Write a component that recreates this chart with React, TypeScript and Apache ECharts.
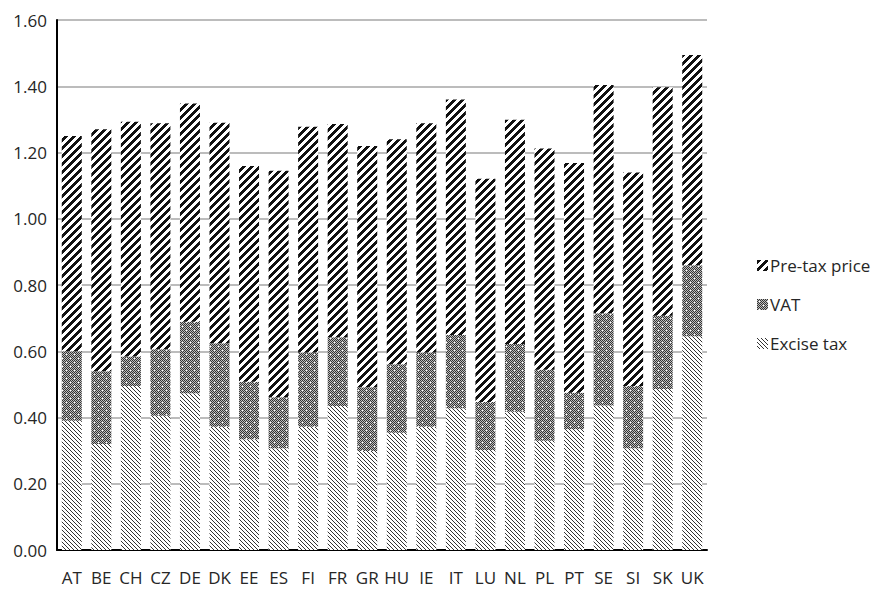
import React, { useEffect, useRef } from "react";
import * as echarts from "echarts";

const categories = ["AT", "BE", "CH", "CZ", "DE", "DK", "EE", "ES", "FI", "FR", "GR", "HU", "IE", "IT", "LU", "NL", "PL", "PT", "SE", "SI", "SK", "UK"];
const exciseTax = [0.39, 0.32, 0.495, 0.405, 0.473, 0.372, 0.334, 0.307, 0.372, 0.435, 0.299, 0.354, 0.372, 0.428, 0.302, 0.417, 0.33, 0.365, 0.436, 0.307, 0.486, 0.645];
const vat = [0.21, 0.22, 0.089, 0.201, 0.216, 0.252, 0.174, 0.154, 0.224, 0.207, 0.192, 0.207, 0.224, 0.221, 0.145, 0.205, 0.214, 0.11, 0.279, 0.188, 0.221, 0.215];
const preTax = [0.65, 0.73, 0.709, 0.682, 0.659, 0.666, 0.651, 0.684, 0.682, 0.644, 0.729, 0.679, 0.692, 0.711, 0.674, 0.677, 0.668, 0.693, 0.689, 0.645, 0.69, 0.634];
const yTicks = { min: 0, max: 1.6, interval: 0.2 };

function makePattern(size: number, pix: (x: number, y: number) => string) {
  const c = document.createElement("canvas");
  c.width = size;
  c.height = size;
  const ctx = c.getContext("2d")!;
  for (let y = 0; y < size; y++) {
    for (let x = 0; x < size; x++) {
      ctx.fillStyle = pix(x, y);
      ctx.fillRect(x, y, 1, 1);
    }
  }
  return { image: c, repeat: "repeat", imageWidth: size, imageHeight: size } as any;
}

export default function App() {
  const ref = useRef<HTMLDivElement>(null);
  useEffect(() => {
    if (!ref.current) return;
    const chart = echarts.init(ref.current, null, { renderer: "svg" });
    const prePat = makePattern(8, (x, y) => ((x + y) % 8 < 4 ? "#111111" : "#ffffff"));
    const excPat = makePattern(4, (x, y) => ((x - y + 8) % 4 === 0 ? "#333333" : "#ffffff"));
    const vatPat = makePattern(8, (x, y) => {
      if ((x === 2 && y === 2) || (x === 6 && y === 6)) return "#ffffff";
      return (x + y) % 2 === 0 ? "#333333" : "#bdbdbd";
    });
    const font = "'Open Sans', sans-serif";
    chart.setOption({
      animation: false,
      backgroundColor: "#ffffff",
      grid: { left: 57, right: 170, top: 20, bottom: 39 },
      legend: {
        orient: "vertical",
        left: 752,
        top: 252,
        itemGap: 22,
        itemWidth: 11,
        itemHeight: 11,
        icon: "rect",
        data: ["Pre-tax price", "VAT", "Excise tax"],
        textStyle: { fontFamily: font, fontSize: 17, color: "#262626", padding: [0, 0, 0, -3] },
      },
      xAxis: {
        type: "category",
        data: categories,
        axisLine: { lineStyle: { color: "#000000", width: 2 } },
        axisTick: { show: false },
        axisLabel: { interval: 0, fontFamily: font, fontSize: 17, color: "#262626", margin: 19 },
      },
      yAxis: {
        type: "value",
        min: yTicks.min,
        max: yTicks.max,
        interval: yTicks.interval,
        axisLine: { show: true, lineStyle: { color: "#000000", width: 2 } },
        axisTick: { show: false },
        splitLine: { lineStyle: { color: "#a6a6a6", width: 1.5 } },
        axisLabel: {
          fontFamily: font,
          fontSize: 17,
          color: "#262626",
          margin: 10,
          formatter: (v: number) => v.toFixed(2),
        },
      },
      series: [
        { name: "Excise tax", type: "bar", stack: "t", barWidth: 20, data: exciseTax, itemStyle: { color: excPat } },
        { name: "VAT", type: "bar", stack: "t", barWidth: 20, data: vat, itemStyle: { color: vatPat } },
        { name: "Pre-tax price", type: "bar", stack: "t", barWidth: 20, data: preTax, itemStyle: { color: prePat } },
      ],
    });
    return () => chart.dispose();
  }, []);
  return <div ref={ref} style={{ position: "fixed", left: 0, top: 0, width: 877, height: 589 }} />;
}
